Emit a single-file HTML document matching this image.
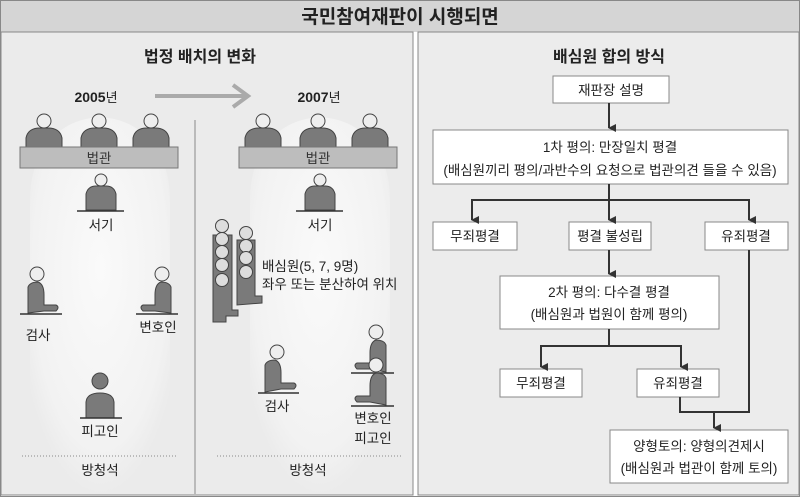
<!DOCTYPE html>
<html><head><meta charset="utf-8"><style>
body{margin:0;width:800px;height:497px;overflow:hidden;background:#fff;font-family:"Liberation Sans","Noto Sans CJK KR",sans-serif}
</style></head><body>
<svg width="800" height="497" xmlns="http://www.w3.org/2000/svg" font-family="Liberation Sans, Noto Sans CJK KR, sans-serif">
<defs>
<radialGradient id="g" cx="0.5" cy="0.4" r="0.6"><stop offset="0" stop-color="#fafafa"/><stop offset="0.8" stop-color="#f2f2f2"/><stop offset="1" stop-color="#ebebeb"/></radialGradient>
<marker id="a" markerWidth="8" markerHeight="8" refX="4" refY="7" orient="auto" markerUnits="userSpaceOnUse"><path d="M0,0 L8,0 L4,8 Z" fill="#333"/></marker>
</defs>
<rect x="0" y="0" width="800" height="497" fill="#fff"/>
<rect x="0" y="0" width="800" height="32" fill="#d5d5d5"/>
<text x="400" y="23" text-anchor="middle" font-size="19" font-weight="bold" fill="#222">국민참여재판이 시행되면</text>
<rect x="1" y="32" width="412" height="463" fill="#ebebeb" stroke="#888" stroke-width="1"/>
<rect x="418" y="32" width="381" height="463" fill="#ececec" stroke="#888" stroke-width="1"/>
<rect x="0" y="0" width="800" height="497" fill="none" stroke="#888" stroke-width="2"/>
<path d="M30,494 L30,200 C30,90 170,90 170,200 L170,494 Z" fill="url(#g)"/>
<path d="M250,494 L250,200 C250,90 390,90 390,200 L390,494 Z" fill="url(#g)"/>
<text x="200" y="62" text-anchor="middle" font-size="16" font-weight="bold" fill="#222">법정 배치의 변화</text>
<text x="96" y="102" text-anchor="middle" font-size="14" font-weight="bold" fill="#222">2005<tspan font-weight="normal" font-size="13">년</tspan></text>
<text x="319" y="102" text-anchor="middle" font-size="14" font-weight="bold" fill="#222">2007<tspan font-weight="normal" font-size="13">년</tspan></text>
<path d="M155,96 L247,96" stroke="#aaa" stroke-width="4"/>
<path d="M233,85 L248,96 L233,107" fill="none" stroke="#aaa" stroke-width="4"/>
<line x1="195" y1="120" x2="195" y2="494" stroke="#aaa" stroke-width="1.5"/>
<g id="bench" fill="#7a7a7a" stroke="#444" stroke-width="1">
<path d="M26,147 L26,138 Q28,128 40,128 L48,128 Q60,128 62,138 L62,147 Z"/><circle cx="44" cy="121" r="7" fill="#eee"/>
<path d="M81,147 L81,138 Q83,128 95,128 L103,128 Q115,128 117,138 L117,147 Z"/><circle cx="99" cy="121" r="7" fill="#eee"/>
<path d="M133,147 L133,138 Q135,128 147,128 L155,128 Q167,128 169,138 L169,147 Z"/><circle cx="151" cy="121" r="7" fill="#eee"/>
<rect x="20" y="147" width="158" height="21" fill="#bdbdbd" stroke="#777"/>
<text x="99" y="163" text-anchor="middle" font-size="13.5" fill="#333" stroke="none">법관</text>
<path d="M86,210 L86,194 Q88,186 96,186 L106,186 Q114,186 116,194 L116,210 Z"/><circle cx="101" cy="180" r="6" fill="#eee"/>
<line x1="77" y1="211" x2="124" y2="211" stroke="#333" stroke-width="1.5"/>
<text x="101" y="230" text-anchor="middle" font-size="13.5" fill="#222" stroke="none">서기</text>
</g>
<use href="#bench" x="219"/>
<g fill="#7a7a7a" stroke="#444">
<circle cx="37" cy="274" r="7" fill="#eee"/><path d="M28,313 L28,287 Q30,282 38,282 Q44,284 44,295 L44,305 L56,305 Q60,307 56,311 L44,311 Z"/>
<line x1="20" y1="314" x2="62" y2="314" stroke="#333" stroke-width="1.5"/>
<circle cx="162" cy="274" r="7" fill="#eee"/><path d="M171,313 L171,287 Q169,282 161,282 Q155,284 155,295 L155,305 L143,305 Q139,307 143,311 L155,311 Z"/>
<line x1="136" y1="314" x2="178" y2="314" stroke="#333" stroke-width="1.5"/>
<circle cx="100" cy="381" r="8"/><path d="M86,418 L86,402 Q87,393 100,393 Q113,393 114,402 L114,418 Z"/>
<line x1="80" y1="418" x2="122" y2="418" stroke="#333" stroke-width="1.5"/>
</g>
<text x="38" y="340" text-anchor="middle" font-size="13.5" fill="#222">검사</text>
<text x="158" y="332" text-anchor="middle" font-size="13.5" fill="#222">변호인</text>
<text x="100" y="436" text-anchor="middle" font-size="13.5" fill="#222">피고인</text>
<line x1="22" y1="456" x2="178" y2="456" stroke="#888" stroke-dasharray="1,2"/>
<line x1="217" y1="456" x2="403" y2="456" stroke="#888" stroke-dasharray="1,2"/>
<text x="100" y="475" text-anchor="middle" font-size="13.5" fill="#222">방청석</text>
<text x="308" y="475" text-anchor="middle" font-size="13.5" fill="#222">방청석</text>
<g fill="#7a7a7a" stroke="#444">
<path d="M213,322 L213,235 L232,235 L232,310 L238,310 L238,316 L226,316 L226,322 Z"/>
<circle cx="222" cy="226" r="6.5" fill="#ddd"/><circle cx="222" cy="239" r="6.5" fill="#ddd"/><circle cx="222" cy="252" r="6.5" fill="#ddd"/><circle cx="222" cy="265" r="6.5" fill="#ddd"/><circle cx="222" cy="280" r="6.5" fill="#ddd"/>
<path d="M237,305 L237,240 L255,240 L255,296 L262,296 L262,303 Z"/>
<circle cx="246" cy="233" r="6.5" fill="#ddd"/><circle cx="246" cy="246" r="6.5" fill="#ddd"/><circle cx="246" cy="258" r="6.5" fill="#ddd"/><circle cx="246" cy="272" r="6.5" fill="#ddd"/>
<circle cx="277" cy="352" r="7" fill="#eee"/><path d="M265,392 L265,365 Q267,360 275,360 Q281,362 281,373 L281,383 L294,383 Q298,385 294,389 L281,389 Z"/>
<line x1="258" y1="393" x2="299" y2="393" stroke="#333" stroke-width="1.5"/>
<circle cx="376" cy="332" r="7" fill="#eee"/><path d="M386,372 L386,345 Q384,340 376,340 Q370,342 370,353 L370,363 L357,363 Q353,365 357,369 L370,369 Z"/>
<line x1="351" y1="373" x2="394" y2="373" stroke="#333" stroke-width="1.5"/>
<circle cx="376" cy="365" r="7" fill="#eee"/><path d="M386,405 L386,378 Q384,373 376,373 Q370,375 370,386 L370,396 L357,396 Q353,398 357,402 L370,402 Z"/>
<line x1="351" y1="406" x2="394" y2="406" stroke="#333" stroke-width="1.5"/>
</g>
<text x="262" y="271" font-size="13.5" fill="#222">배심원(5, 7, 9명)</text>
<text x="262" y="289" font-size="13.5" fill="#222">좌우 또는 분산하여 위치</text>
<text x="277" y="411" text-anchor="middle" font-size="13.5" fill="#222">검사</text>
<text x="373" y="423" text-anchor="middle" font-size="13.5" fill="#222">변호인</text>
<text x="373" y="443" text-anchor="middle" font-size="13.5" fill="#222">피고인</text>
<text x="609" y="62" text-anchor="middle" font-size="16" font-weight="bold" fill="#222">배심원 합의 방식</text>
<g fill="#fff" stroke="#888">
<rect x="553" y="76" width="116" height="27"/>
<rect x="433" y="130" width="355" height="54"/>
<rect x="433" y="222" width="84" height="28"/>
<rect x="569" y="222" width="82" height="28"/>
<rect x="705" y="222" width="83" height="28"/>
<rect x="500" y="276" width="219" height="53"/>
<rect x="500" y="369" width="82" height="28"/>
<rect x="637" y="369" width="82" height="28"/>
<rect x="610" y="430" width="178" height="53"/>
</g>
<g stroke="#333" stroke-width="2" fill="none">
<line x1="609" y1="103" x2="609" y2="128" marker-end="url(#a)"/>
<line x1="609" y1="184" x2="609" y2="220" marker-end="url(#a)"/>
<polyline points="472,220 472,200 749,200 749,220"/>
<line x1="472" y1="205" x2="472" y2="220" marker-end="url(#a)"/>
<line x1="749" y1="205" x2="749" y2="220" marker-end="url(#a)"/>
<line x1="609" y1="250" x2="609" y2="274" marker-end="url(#a)"/>
<polyline points="609,329 609,346 541,346 541,367"/>
<polyline points="609,346 681,346 681,367"/>
<line x1="541" y1="352" x2="541" y2="367" marker-end="url(#a)"/>
<line x1="681" y1="352" x2="681" y2="367" marker-end="url(#a)"/>
<polyline points="680,397 680,412 749,412 749,250"/>
<line x1="714" y1="412" x2="714" y2="428" marker-end="url(#a)"/>
</g>
<g font-size="13.5" fill="#222" text-anchor="middle">
<text x="611" y="95">재판장 설명</text>
<text x="610" y="152">1차 평의: 만장일치 평결</text>
<text x="610" y="175">(배심원끼리 평의/과반수의 요청으로 법관의견 들을 수 있음)</text>
<text x="475" y="241">무죄평결</text>
<text x="610" y="241">평결 불성립</text>
<text x="746" y="241">유죄평결</text>
<text x="609" y="297">2차 평의: 다수결 평결</text>
<text x="609" y="319">(배심원과 법원이 함께 평의)</text>
<text x="541" y="388">무죄평결</text>
<text x="678" y="388">유죄평결</text>
<text x="699" y="451">양형토의: 양형의견제시</text>
<text x="699" y="473">(배심원과 법관이 함께 토의)</text>
</g>
</svg>
</body></html>
